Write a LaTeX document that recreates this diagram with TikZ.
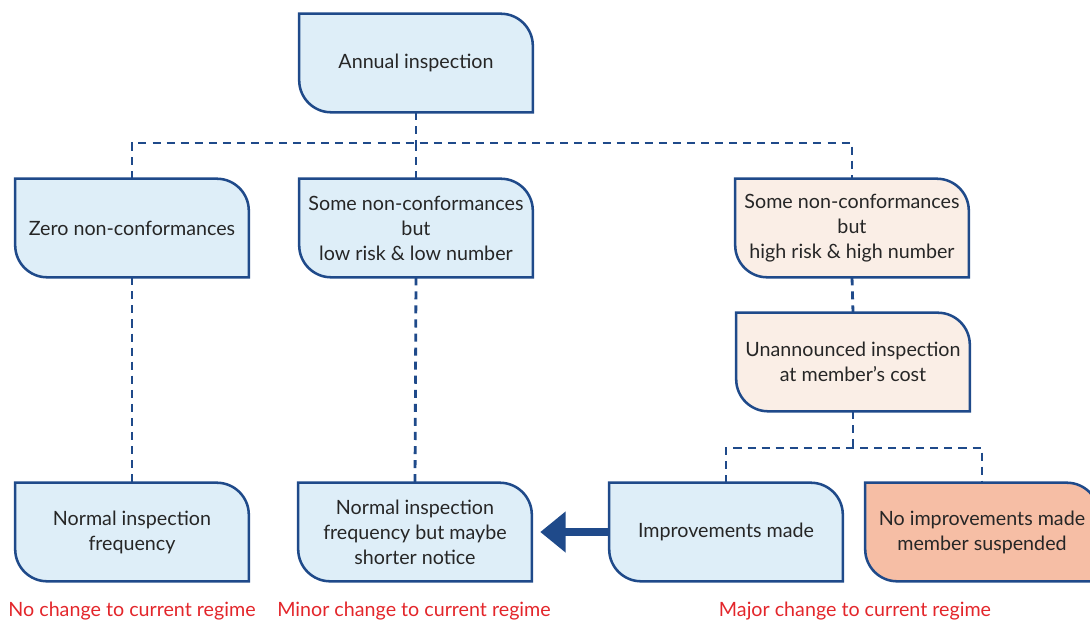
\documentclass[tikz,border=0pt]{standalone}
\usepackage{fontspec}
\setmainfont{Lato}
\usetikzlibrary{arrows.meta,backgrounds}

\definecolor{edgeblue}{HTML}{1F4A8A}
\definecolor{paleblue}{HTML}{DEEEF8}
\definecolor{paletan}{HTML}{FAEEE6}
\definecolor{salmon}{HTML}{F6BEA5}
\definecolor{regimered}{HTML}{E3262B}

\newlength{\cornerr}
\setlength{\cornerr}{0.8cm}

% outline of a box: round corners top right and bottom left
\newcommand{\flowshape}[2]{%
\draw[edgeblue,line width=1.8pt,fill=#2] (#1.north west) -- ([xshift=-\cornerr]#1.north east)
  arc[start angle=90,end angle=0,radius=\cornerr] -- (#1.south east)
  -- ([xshift=\cornerr]#1.south west) arc[start angle=270,end angle=180,radius=\cornerr] -- cycle;}

\tikzset{
  flowbox/.style={minimum width=5.825cm,minimum height=2.45cm,inner sep=0pt,align=center,
    font=\fontsize{14}{17.8}\selectfont,text=black!85},
  dashline/.style={edgeblue,line width=2pt,dash pattern=on 5.7pt off 4.3pt},
  regime/.style={font=\fontsize{14}{17}\selectfont,text=regimered}
}

\begin{document}
\begin{tikzpicture}[x=0.025cm,y=-0.025cm]
\useasboundingbox (0,0) rectangle (1090,620);

\node[flowbox] (annual) at (416,63) {Annual inspection};

\node[flowbox] (zero) at (132,228) {Zero non-conformances};
\node[flowbox] (lowrisk) at (416,228) {Some non-conformances\\but\\low risk \& low number};
\node[flowbox] (highrisk) at (852,228) {Some non-conformances\\but\\high risk \& high number};
\node[flowbox] (unannounced) at (853,362) {Unannounced inspection\\at member's cost};

\node[flowbox] (normal) at (132,532) {Normal inspection\\frequency};
\node[flowbox] (shorter) at (415,532) {Normal inspection\\frequency but maybe\\shorter notice};
\node[flowbox] (improved) at (726,532) {Improvements made};
\node[flowbox] (suspended) at (982,532) {No improvements made\\member suspended};

\begin{scope}[on background layer]
\flowshape{annual}{paleblue}
\flowshape{zero}{paleblue}
\flowshape{lowrisk}{paleblue}
\flowshape{highrisk}{paletan}
\flowshape{unannounced}{paletan}
\flowshape{normal}{paleblue}
\flowshape{shorter}{paleblue}
\flowshape{improved}{paleblue}
\flowshape{suspended}{salmon}
\end{scope}

\coordinate (split) at (416,143);
\coordinate (split2) at (853,448);

\draw[dashline] (annual.south) -- (split);
\draw[dashline] (split) -- (lowrisk.north);
\draw[dashline] (zero.north) |- (split) -| (highrisk.north);

\draw[dashline] (zero.south) -- (normal.north);
\draw[dashline] (lowrisk.south) -- (shorter.north);
\draw[dashline] (highrisk.south) -- (unannounced.north);

\draw[dashline] (unannounced.south) -- (split2);
\draw[dashline] (improved.north) |- (split2) -| (suspended.north);

\draw[edgeblue,line width=5.8pt,-{Triangle[length=18pt,width=28pt]},shorten >=6pt] (improved.west) -- (shorter.east);

\node[regime] (nochange) at (132,611) {No change to current regime};
\node[regime] (minor) at (414,611) {Minor change to current regime};
\node[regime] (major) at (855,611) {Major change to current regime};

\end{tikzpicture}
\end{document}
